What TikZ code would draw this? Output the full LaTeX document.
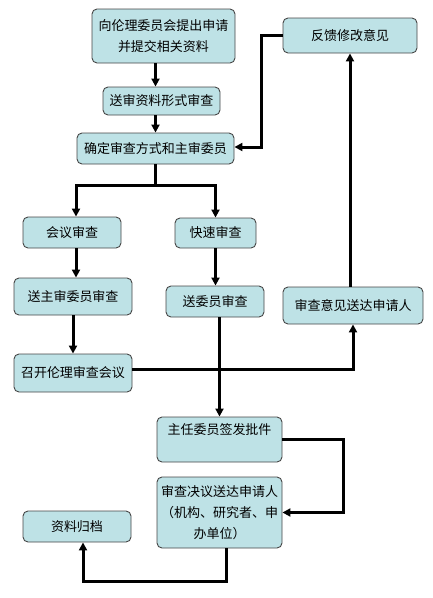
\documentclass[tikz,border=0pt]{standalone}
\usepackage{fontspec}
\usepackage{xcolor}
\usetikzlibrary{arrows.meta,positioning}
\newfontfamily\cjk{Noto Sans CJK SC}
\definecolor{boxfill}{RGB}{190,226,230}
\definecolor{boxline}{RGB}{70,70,70}

\begin{document}
\begin{tikzpicture}[x=1pt,y=-1pt,
    >={Triangle[width=8pt,length=8pt]},
    flowbox/.style={draw=boxline,line width=0.9pt,fill=boxfill,rounded corners=5pt,
      inner sep=0pt,align=center,font=\cjk\fontsize{13}{21}\selectfont},
    flow/.style={->,line width=3pt}]
    \useasboundingbox (0,0) rectangle (433,598);
       \node[flowbox,minimum width=143pt,minimum height=54pt] (apply) at (163.5,36) {向伦理委员会提出申请\\并提交相关资料};
       \node[flowbox,minimum width=117pt,minimum height=28pt] (formal) at (161.5,101) {送审资料形式审查};
       \node[flowbox,minimum width=157pt,minimum height=31pt] (decide) at (155.5,148.5) {确定审查方式和主审委员};
       \node[flowbox,minimum width=134pt,minimum height=35pt] (feedback) at (350,35.5) {反馈修改意见};
       \node[flowbox,minimum width=98pt,minimum height=31pt] (meeting) at (72,232.5) {会议审查};
       \node[flowbox,minimum width=81pt,minimum height=30pt] (fast) at (215.5,233) {快速审查};
       \node[flowbox,minimum width=118pt,minimum height=37pt] (primary) at (73,296.5) {送主审委员审查};
       \node[flowbox,minimum width=98pt,minimum height=31pt] (members) at (215,301.5) {送委员审查};
       \node[flowbox,minimum width=118pt,minimum height=38pt] (convene) at (73,373) {召开伦理审查会议};
       \node[flowbox,minimum width=140pt,minimum height=37pt] (notify) at (353,305.5) {审查意见送达申请人};
       \node[flowbox,minimum width=125pt,minimum height=45pt] (sign) at (219.5,439.5) {主任委员签发批件\\\mbox{}};
       \node[flowbox,minimum width=125pt,minimum height=71pt] (decision) at (219.5,512.5) {审查决议送达申请人\\（机构、研究者、申\\办单位）};
       \node[flowbox,minimum width=108pt,minimum height=31pt] (archive) at (77,526.5) {资料归档};
        % main line
        \draw[flow] (apply.south -| decide.north) -- (formal.north -| decide.north);
        \draw[flow] (formal.south -| decide.north) -- (decide.north);
        \draw[line width=3pt] (decide.south) -- ++(0,21) coordinate (split);
        \draw[flow] (split) -| ([xshift=4pt]meeting.north);
        \draw[flow] (split) -| (fast.north);
        \draw[flow] ([xshift=4pt]meeting.south) -- ([xshift=4pt]meeting.south |- primary.north);
        \draw[flow] (primary.south) -- (convene.north);
        \draw[flow] (fast.south) -- (fast.south |- members.north);
        \draw[flow] (members.south -| sign.north) -- (sign.north);
        % feedback loop
        \draw[flow] ([yshift=4pt]convene.east) -| (notify.south);
        \draw[flow] (notify.north -| feedback.south) -- (feedback.south);
        \draw[flow] (feedback.west) -- ++(-21,0) |- ([yshift=1.5pt]decide.east);
        % approval
        \draw[flow] (sign.east) -- ++(61,0) |- (decision.east);
        \draw[flow] ([xshift=7pt]decision.south) -- ++(0,33) -| ([xshift=6pt]archive.south);
    \end{tikzpicture}
\end{document}
